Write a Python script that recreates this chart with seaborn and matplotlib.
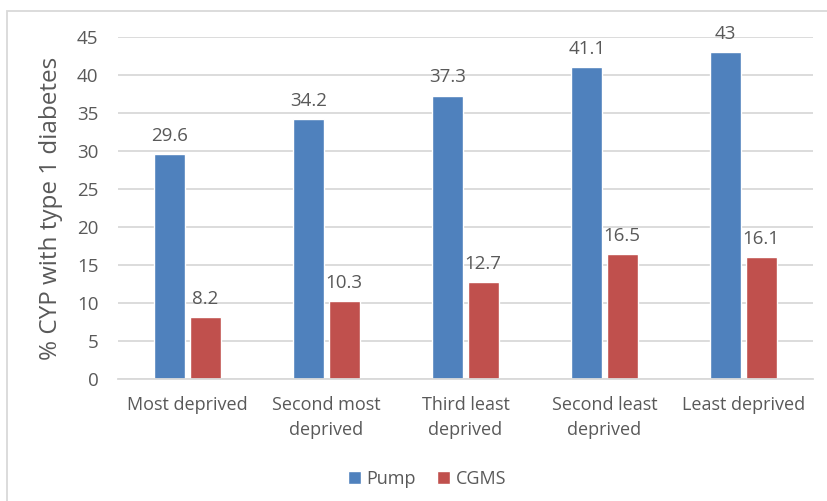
import matplotlib
matplotlib.use("Agg")
import matplotlib.pyplot as plt
from matplotlib.patches import Rectangle
import seaborn as sns
import pandas as pd

categories = ["Most deprived", "Second most\ndeprived", "Third least\ndeprived",
              "Second least\ndeprived", "Least deprived"]
series_names = ["Pump", "CGMS"]
pump = [29.6, 34.2, 37.3, 41.1, 43]
cgms = [8.2, 10.3, 12.7, 16.5, 16.1]
y_ticks = [0, 5, 10, 15, 20, 25, 30, 35, 40, 45]

df = pd.DataFrame({
    "category": categories * 2,
    "series": [series_names[0]] * len(categories) + [series_names[1]] * len(categories),
    "value": pump + cgms,
})

sns.set_theme(style="white")
plt.rcParams["font.family"] = ["Open Sans", "DejaVu Sans"]
text_color = "#595959"
grid_color = "#D9D9D9"
palette = {"Pump": "#4F81BD", "CGMS": "#C0504D"}

fig = plt.figure(figsize=(8.27, 5.01), dpi=100)
ax = fig.add_axes([118 / 827, 1 - 379 / 501, (813 - 118) / 827, (379 - 37) / 501])

sns.barplot(data=df, x="category", y="value", hue="series", hue_order=series_names,
            order=categories, palette=palette, width=0.51, gap=0.125,
            saturation=1, ax=ax, legend=True)

for cont in ax.containers:
    ax.bar_label(cont, fmt="{:g}", padding=6.5, fontsize=13.5, color=text_color)

ax.set_ylim(0, 45)
ax.set_yticks(y_ticks)
ax.yaxis.grid(True, color=grid_color, linewidth=1.3)
ax.set_axisbelow(True)
for side in ["left", "right", "top"]:
    ax.spines[side].set_visible(False)
ax.spines["bottom"].set_color(grid_color)
ax.spines["bottom"].set_linewidth(1.3)
ax.tick_params(axis="both", length=0, colors=text_color)
ax.tick_params(axis="y", pad=14, labelsize=13.5)
ax.tick_params(axis="x", pad=12, labelsize=13)
for lbl in ax.get_xticklabels():
    lbl.set_linespacing(1.55)
ax.set_xlabel("")
ax.set_ylabel("% CYP with type 1 diabetes", fontsize=17.5, color=text_color, labelpad=10)

handles, labels = ax.get_legend_handles_labels()
ax.get_legend().remove()
fig.legend(handles, labels, loc="center", bbox_to_anchor=(427 / 827, 1 - 479 / 501),
           ncol=2, frameon=False, fontsize=13, labelcolor=text_color,
           handlelength=0.7, handleheight=0.7, handletextpad=0.3, columnspacing=1.2)

fig.patches.append(Rectangle((7 / 827, -0.05), 1.1, 1 - 11 / 501 + 0.05,
                             transform=fig.transFigure, fill=False,
                             edgecolor=grid_color, linewidth=1.3))

fig.savefig("out.png", dpi=100)
